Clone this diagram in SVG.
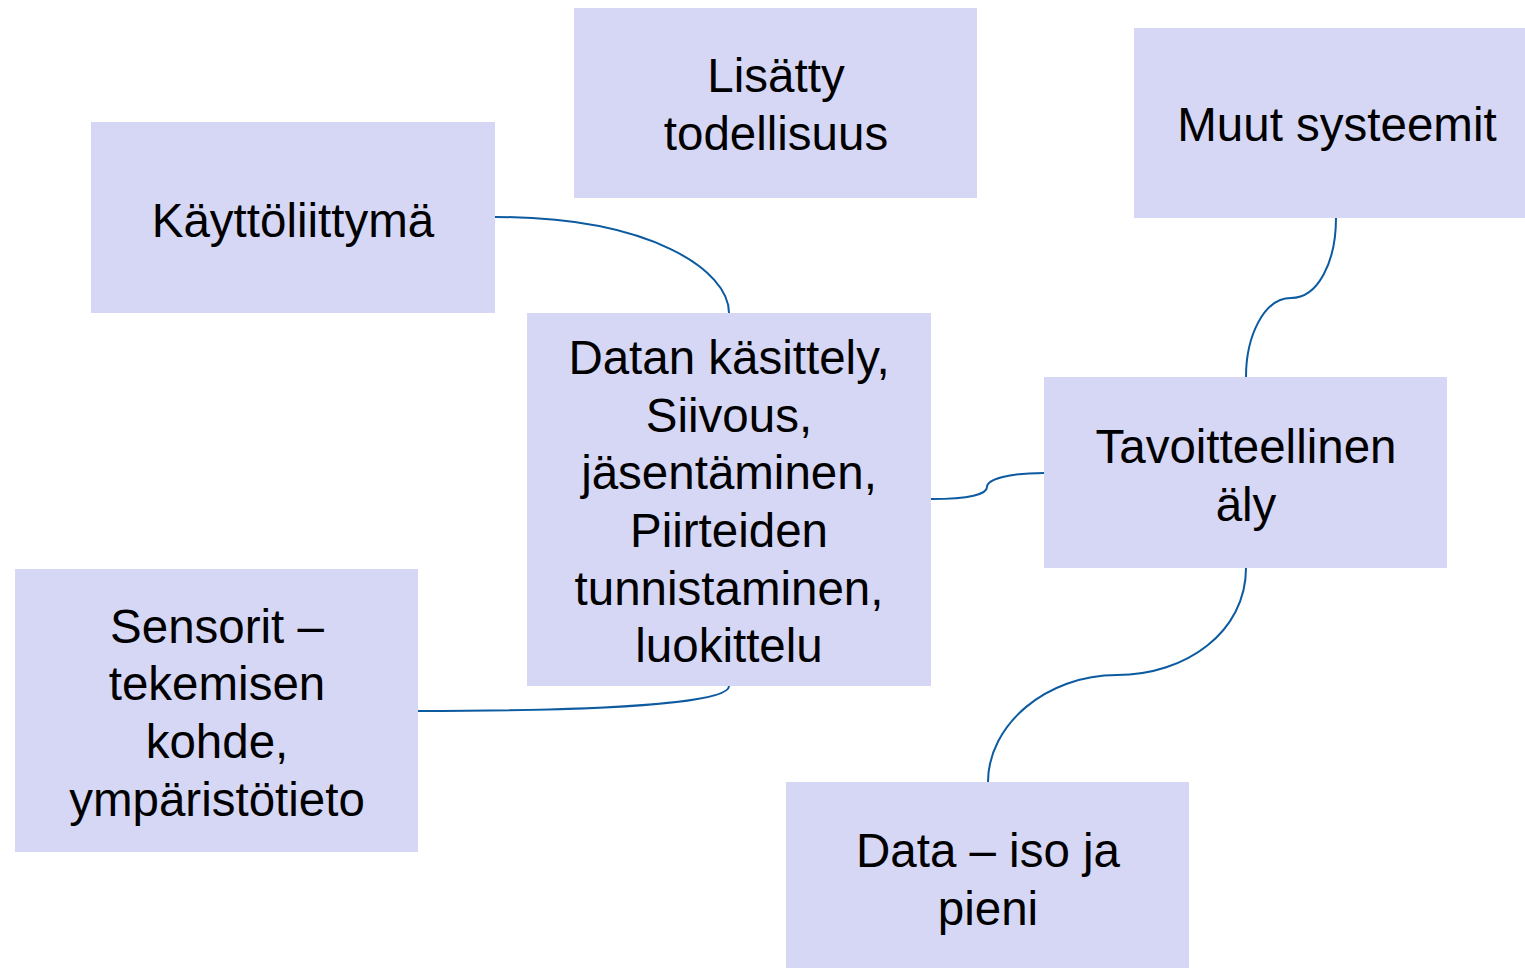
<svg xmlns="http://www.w3.org/2000/svg" width="1525" height="968" viewBox="0 0 1525 968">
<style>
.box{fill:#D6D7F4;}
.t{font-family:"Liberation Sans",Arial,sans-serif;font-size:47.5px;fill:#000;text-anchor:middle;}
.c{fill:none;stroke:#0C5AA0;stroke-width:2;}
</style>
<rect width="1525" height="968" fill="#fff"/>
<g id="connectors">
<path class="c" d="M495,217 C650,217 729,270 729,313"/>
<path class="c" d="M931,499 C970,499 987,494 987,487 C987,479 1010,473 1044,473"/>
<path class="c" d="M729,686 C729,702 620,711 418,711"/>
<path class="c" d="M1336,218 C1336,262 1318,298 1291,298 C1264,298 1246,336 1246,377"/>
<path class="c" d="M1246,568 C1246,632 1186,675 1117,675 C1046,675 988,725 988,782"/>
</g>
<g id="lisatty">
<rect class="box" x="574" y="8" width="403" height="190"/>
<text class="t" x="776" y="92">Lisätty</text>
<text class="t" x="776" y="150">todellisuus</text>
</g>
<g id="muut">
<rect class="box" x="1134" y="28" width="403" height="190"/>
<text class="t" x="1337" y="141">Muut systeemit</text>
</g>
<g id="kayttoliittyma">
<rect class="box" x="91" y="122" width="404" height="191"/>
<text class="t" x="293" y="237">Käyttöliittymä</text>
</g>
<g id="datan">
<rect class="box" x="527" y="313" width="404" height="373"/>
<text class="t" x="729" y="374">Datan käsittely,</text>
<text class="t" x="729" y="432">Siivous,</text>
<text class="t" x="729" y="489">jäsentäminen,</text>
<text class="t" x="729" y="547">Piirteiden</text>
<text class="t" x="729" y="605">tunnistaminen,</text>
<text class="t" x="729" y="662">luokittelu</text>
</g>
<g id="tavoitteellinen">
<rect class="box" x="1044" y="377" width="403" height="191"/>
<text class="t" x="1246" y="463">Tavoitteellinen</text>
<text class="t" x="1246" y="521">äly</text>
</g>
<g id="sensorit">
<rect class="box" x="15" y="569" width="403" height="283"/>
<text class="t" x="217" y="643">Sensorit –</text>
<text class="t" x="217" y="700">tekemisen</text>
<text class="t" x="217" y="758">kohde,</text>
<text class="t" x="217" y="816">ympäristötieto</text>
</g>
<g id="data">
<rect class="box" x="786" y="782" width="403" height="190"/>
<text class="t" x="988" y="867">Data – iso ja</text>
<text class="t" x="988" y="925">pieni</text>
</g>
</svg>
